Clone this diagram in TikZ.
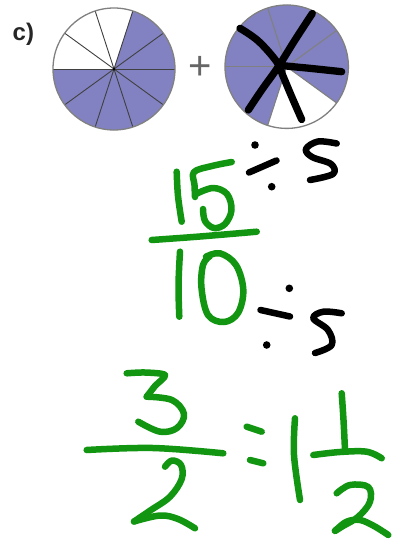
\documentclass[tikz,border=0pt]{standalone}
\usepackage{fontspec}
\setsansfont{Liberation Sans}
\definecolor{pie}{rgb}{0.51,0.51,0.76}
\definecolor{pieedge}{rgb}{0.5,0.5,0.5}
\definecolor{ink}{rgb}{0.07,0.59,0.07}
\begin{document}
\begin{tikzpicture}[x=1pt,y=-1pt,
  gstroke/.style={draw=ink,line width=6.5pt,line cap=round,line join=round},
  kstroke/.style={draw=black,line width=6.5pt,line cap=round,line join=round},
  sector/.style={draw=black!75,line width=0.9pt},
  rim/.style={draw=pieedge,line width=1.3pt}]
\useasboundingbox[fill=white] (0,0) rectangle (394,541);

% label and plus
\node[font=\sffamily\bfseries\fontsize{24}{24}\selectfont,text=black!85,anchor=base west,inner sep=0pt] (lab) at (12.5,40) {c)};
\node[font=\sffamily\fontsize{40}{40}\selectfont,text=black!60,inner sep=0pt] (plus) at (200,68) {+};

% circle 1 (7/10 shaded)
\coordinate (c1) at (114,69);
\fill[pie] (c1) -- ++(-72:61) arc[start angle=-72,end angle=180,radius=61] -- cycle;
\foreach \a in {0,36,...,324} \draw[sector] (c1) -- ++(\a:61);
\draw[rim] (c1) circle[radius=61];
\fill[black] (c1) circle[radius=1.5];

% circle 2 (4/5 shaded)
\coordinate (c2) at (286.7,66.7);
\fill[pie] (c2) -- ++(-252:61.7) arc[start angle=-252,end angle=36,radius=61.7] -- cycle;
\foreach \a in {-36,-108,-180,-252,-324} \draw[sector,draw=black!50,line width=1.1pt] (c2) -- ++(\a:61.7);
\draw[rim] (c2) circle[radius=61.7];

% black crossing strokes
\draw[kstroke,line width=7.3pt] plot[smooth,tension=0.6] coordinates {(240,28.3) (258.3,41) (276.5,61.5) (283,76) (291.7,96.7) (301.7,119.5)};
\draw[kstroke,line width=7.3pt] plot[smooth,tension=0.6] coordinates {(312.3,13.5) (295,40) (278.3,66.7) (261.7,90) (248.3,110)};
\draw[kstroke,line width=7.3pt] plot[smooth,tension=0.6] coordinates {(281.7,65.5) (295,66.9) (311.7,68.5) (341.7,71.7)};

% 15/10
\draw[gstroke] plot[smooth,tension=0.6] coordinates {(176.7,171.7) (178,196) (181.7,221.7)};
\draw[gstroke] plot[smooth,tension=0.6] coordinates {(231.7,162) (212,166) (194,172) (194.5,185) (195,197)};
\draw[gstroke] plot[smooth,tension=0.6] coordinates {(196,194) (213,188) (227,194) (231.5,210) (225,224) (214,228) (205,221) (203,209)};
\draw[gstroke] plot[smooth,tension=0.6] coordinates {(151.7,240) (200,236.5) (256.7,231.7)};
\draw[gstroke] plot[smooth,tension=0.6] coordinates {(180,251.7) (178.5,285) (179.3,316.7)};
\draw[gstroke] plot[smooth,tension=0.6] coordinates {(206,256.7) (220,253.3) (236,265) (243.3,290) (238,313) (224,322) (208,315) (201.5,288) (203,265) (210,256)};

% black divide-by-5 (top)
\fill[black] (255,145) circle[radius=3.8];
\draw[kstroke] (249,172.5) -- (276.5,160.5);
\fill[black] (271.7,186.7) circle[radius=3.8];
\draw[kstroke] plot[smooth,tension=0.6] coordinates {(336.7,143.5) (318,141.5) (306,149) (312,157) (331,164) (333,174) (310,180)};

% black divide-by-5 (bottom)
\fill[black] (289.3,288.3) circle[radius=3.8];
\draw[kstroke] (260.5,310) -- (290,316.5);
\fill[black] (266.7,345) circle[radius=3.8];
\draw[kstroke] plot[smooth,tension=0.6] coordinates {(341.7,313.3) (323.3,311.7) (313.3,318.3) (328,330) (331.7,345) (315,353)};

% 3/2 = 1 1/2
\draw[gstroke] plot[smooth,tension=0.5] coordinates {(126.7,373.3) (145,372.5) (165,375) (155,386) (146.7,396.7)};
\draw[gstroke] plot[smooth,tension=0.6] coordinates {(146.7,396.7) (172,400) (184,414) (177,428) (160,431.7) (138.3,421.7)};
\draw[gstroke] plot[smooth,tension=0.6] coordinates {(86.7,450) (153,448) (223.3,453.3)};
\draw[gstroke] plot[smooth,tension=0.6] coordinates {(165,466.7) (172,460.5) (181,465) (181.7,479) (170,496.7) (151,510) (134,521.5)};
\draw[gstroke] plot[smooth,tension=0.6] coordinates {(134,521.5) (160,515.5) (178,519) (195,528.3)};
\draw[gstroke] (246.7,426.7) -- (261.7,431.7);
\draw[gstroke] (250,460) -- (263.3,463.3);
\draw[gstroke] plot[smooth,tension=0.6] coordinates {(295,418.3) (294,455) (300,500)};
\draw[gstroke] plot[smooth,tension=0.6] coordinates {(341.7,393.3) (343.5,420) (345,450)};
\draw[gstroke] plot[smooth,tension=0.6] coordinates {(313.3,455) (340,452) (366.7,451.7) (381.7,458.3)};
\draw[gstroke] plot[smooth,tension=0.6] coordinates {(336.7,493.3) (350,485) (368.3,487) (370,501.7) (358.3,516.7) (343,526) (335,531) (337,529) (347,521.5) (360,520) (374,526) (388.3,535)};
\end{tikzpicture}
\end{document}
